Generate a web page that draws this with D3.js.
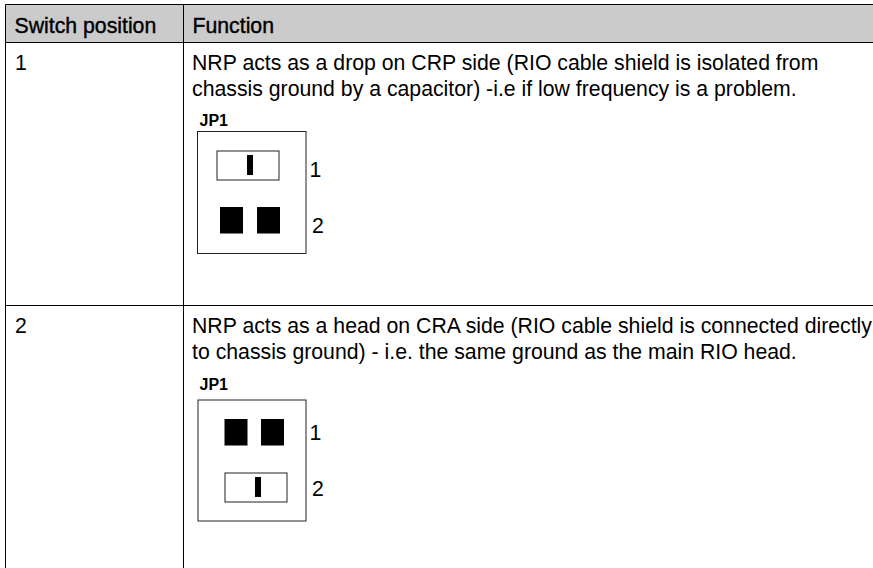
<!DOCTYPE html>
<html>
<head>
<meta charset="utf-8">
<script src="https://d3js.org/d3.v7.min.js"></script>
<style>
    html, body { margin: 0; padding: 0; background: #fff; }
    text { font-family: "Liberation Sans", Arial, sans-serif; font-size: 21.25px; fill: #000; }
    .head { stroke: #000; stroke-width: 0.4px; }
    .jp { font-size: 16px; font-weight: bold; }
</style>
</head>
<body>
<svg id="chart" width="873" height="568" style="display:block"></svg>
<script>
var columns = ["Switch position", "Function"];
var switchPositions = ["1", "2"];
var functionLines = [
    ["NRP acts as a drop on CRP side (RIO cable shield is isolated from",
     "chassis ground by a capacitor) -i.e if low frequency is a problem."],
    ["NRP acts as a head on CRA side (RIO cable shield is connected directly",
     "to chassis ground) - i.e. the same ground as the main RIO head."]
];
// which jumper row holds the bridge in each switch position
var bridgedRow = ["1", "2"];
var jumperRows = ["1", "2"];
var jumperName = "JP1";

var svg = d3.select("#chart");

// table grid
var colX = d3.scaleOrdinal().domain(columns).range([5.5, 183.5]);
var rowY = d3.scaleOrdinal().domain(["head"].concat(switchPositions)).range([42.5, 42.5, 305.5]);
var tableTop = 4.5, tableRight = 873, tableBottom = 568;

svg.append("rect")
    .attr("x", colX(columns[0])).attr("y", tableTop)
    .attr("width", tableRight - colX(columns[0])).attr("height", rowY("head") - tableTop)
    .attr("fill", "#cbcbcb");

function rule(x1, y1, x2, y2) {
    svg.append("line").attr("x1", x1).attr("y1", y1).attr("x2", x2).attr("y2", y2)
        .attr("stroke", "#000").attr("stroke-width", 1);
}
rule(colX(columns[0]), tableTop, tableRight, tableTop);
rule(colX(columns[0]), rowY("head"), tableRight, rowY("head"));
rule(colX(columns[0]), rowY("2"), tableRight, rowY("2"));
columns.forEach(function (c) {
    rule(colX(c), tableTop, colX(c), tableBottom);
});

// header
svg.selectAll("text.head").data(columns).enter().append("text")
    .attr("class", "head")
    .attr("x", function (d) { return colX(d) + 9; })
    .attr("y", 33)
    .text(function (d) { return d; });

// one diagram per row, the two pictures in the source are not quite aligned
var diagram = [
    { box: [197.5, 131.5, 108.5, 122], sq: [220, 257], sw: 216.5, jy: { "1": 150.5, "2": 207 }, num: [176.5, 232.5], jpY: 126 },
    { box: [198, 400, 108, 121], sq: [224.5, 261], sw: 224.5, jy: { "1": 419, "2": 472.5 }, num: [440, 496], jpY: 390 }
];

switchPositions.forEach(function (pos, i) {
    var rowTop = rowY(pos);

    svg.append("text").attr("x", 15).attr("y", rowTop + 27.5).text(pos);

    svg.selectAll("text.fn" + i).data(functionLines[i]).enter().append("text")
        .attr("class", "fn" + i)
        .attr("x", 192)
        .attr("y", function (d, k) { return rowTop + 27.5 + k * 25.5; })
        .text(function (d) { return d; });

    var g = diagram[i];
    svg.append("text").attr("class", "jp")
        .attr("x", 199.5).attr("y", g.jpY).text(jumperName);
    svg.append("rect")
        .attr("x", g.box[0]).attr("y", g.box[1])
        .attr("width", g.box[2]).attr("height", g.box[3])
        .attr("fill", "#fff").attr("stroke", "#222").attr("stroke-width", 1);

    jumperRows.forEach(function (r, k) {
        var y = g.jy[r];
        if (r === bridgedRow[i]) {
            svg.append("rect")
                .attr("x", g.sw + 0.5).attr("y", y + 0.5)
                .attr("width", 62).attr("height", 29)
                .attr("fill", "#fff").attr("stroke", "#222").attr("stroke-width", 1);
            svg.append("rect")
                .attr("x", g.sw + 30.5).attr("y", y + 4.5)
                .attr("width", 6).attr("height", 20)
                .attr("fill", "#000");
        } else {
            svg.selectAll("rect.sq" + i).data(g.sq).enter().append("rect")
                .attr("class", "sq" + i)
                .attr("x", function (d) { return d; })
                .attr("y", y)
                .attr("width", 23).attr("height", 26.5)
                .attr("fill", "#000");
        }
        svg.append("text")
            .attr("x", k === 0 ? 309.5 : 312)
            .attr("y", g.num[k])
            .text(r);
    });
});
</script>
</body>
</html>
